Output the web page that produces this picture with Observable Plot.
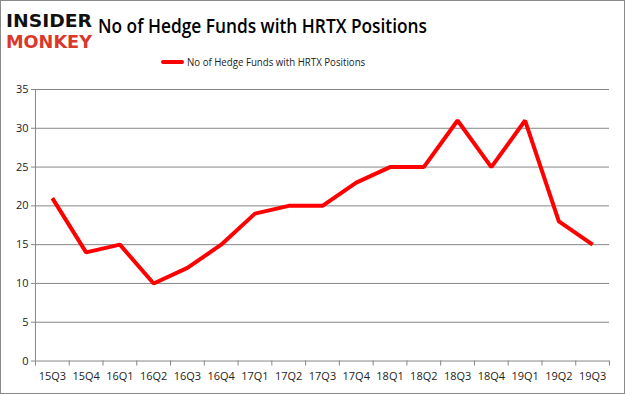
<!DOCTYPE html>
<html>
<head>
<meta charset="utf-8">
<script src="https://cdn.jsdelivr.net/npm/d3@7"></script>
<script src="https://cdn.jsdelivr.net/npm/@observablehq/plot@0.6"></script>
<style>
  html, body { margin: 0; padding: 0; background: #fff; }
  #frame { position: relative; width: 625px; height: 394px; box-sizing: border-box; border: 1px solid #8a8a8a; background: #fff; overflow: hidden; font-family: "Open Sans", sans-serif; }
  #logo { position: absolute; left: 3px; top: 4px; overflow: visible; }
  #title { position: absolute; left: 97px; top: 11px; font-family: "Open Sans", sans-serif; font-weight: 600; font-size: 20px; color: #000; white-space: nowrap; transform: scaleX(0.865); transform-origin: left top; }
  #legend { position: absolute; left: 160px; top: 53px; font-size: 11px; color: #222; white-space: nowrap; display: flex; align-items: center; font-family: "Open Sans", sans-serif; }
  #legend .sw { display: inline-block; width: 23px; height: 4px; background: #ff0000; margin-right: 3px; border-radius: 2px; }
  #legend .t { display: inline-block; transform: scaleX(0.88); transform-origin: left center; }
  #chart { position: absolute; left: 0; top: 80px; }
</style>
</head>
<body>
<div id="frame">
  <svg id="logo" width="92" height="48" viewBox="0 0 92 48">
    <text x="2" y="22" textLength="86" lengthAdjust="spacingAndGlyphs" font-family="DejaVu Sans" font-weight="bold" font-size="18" fill="#111">INSIDER</text>
    <text x="2" y="43" textLength="86" lengthAdjust="spacingAndGlyphs" font-family="DejaVu Sans" font-weight="bold" font-size="18" fill="#d9382b">MONKEY</text>
  </svg>
  <div id="title">No of Hedge Funds with HRTX Positions</div>
  <div id="legend"><span class="sw"></span><span class="t">No of Hedge Funds with HRTX Positions</span></div>
  <div id="chart"></div>
</div>
<script>
const quarters = ["15Q3","15Q4","16Q1","16Q2","16Q3","16Q4","17Q1","17Q2","17Q3","17Q4","18Q1","18Q2","18Q3","18Q4","19Q1","19Q2","19Q3"];
const funds = [21,14,15,10,12,15,19,20,20,23,25,25,31,25,31,18,15];
const yTicks = [0,5,10,15,20,25,30,35];

const data = quarters.map((q, i) => ({i, q, v: funds[i]}));
const boundaries = d3.range(quarters.length + 1).map(k => k - 0.5);

const chart = Plot.plot({
  width: 624,
  height: 313,
  marginTop: 8,
  marginBottom: 33,
  marginLeft: 34,
  marginRight: 15,
  style: {fontFamily: "'Open Sans', sans-serif", fontSize: "11px", color: "#222", background: "transparent"},
  x: {type: "linear", domain: [-0.5, quarters.length - 0.5]},
  y: {domain: [0, 35]},
  marks: [
    Plot.ruleY(yTicks.filter(t => t > 0), {stroke: "#868686", strokeWidth: 1}),
    Plot.ruleY([0], {stroke: "#868686", strokeWidth: 1}),
    Plot.ruleX([-0.5], {stroke: "#868686", strokeWidth: 1}),
    Plot.ruleX(boundaries, {y1: 0, y2: 0, insetBottom: -5, stroke: "#868686"}),
    Plot.axisY({ticks: yTicks, tickSize: 4, tickPadding: 3, stroke: "#868686", label: null, fill: "#222"}),
    Plot.axisX({ticks: d3.range(quarters.length), tickFormat: d => quarters[d], tickSize: 0, tickPadding: 11, label: null, fill: "#222"}),
    Plot.line(data, {x: "i", y: "v", stroke: "#ff0000", strokeWidth: 4, strokeLinejoin: "miter", strokeLinecap: "butt"})
  ]
});
document.getElementById("chart").appendChild(chart);
</script>
</body>
</html>
